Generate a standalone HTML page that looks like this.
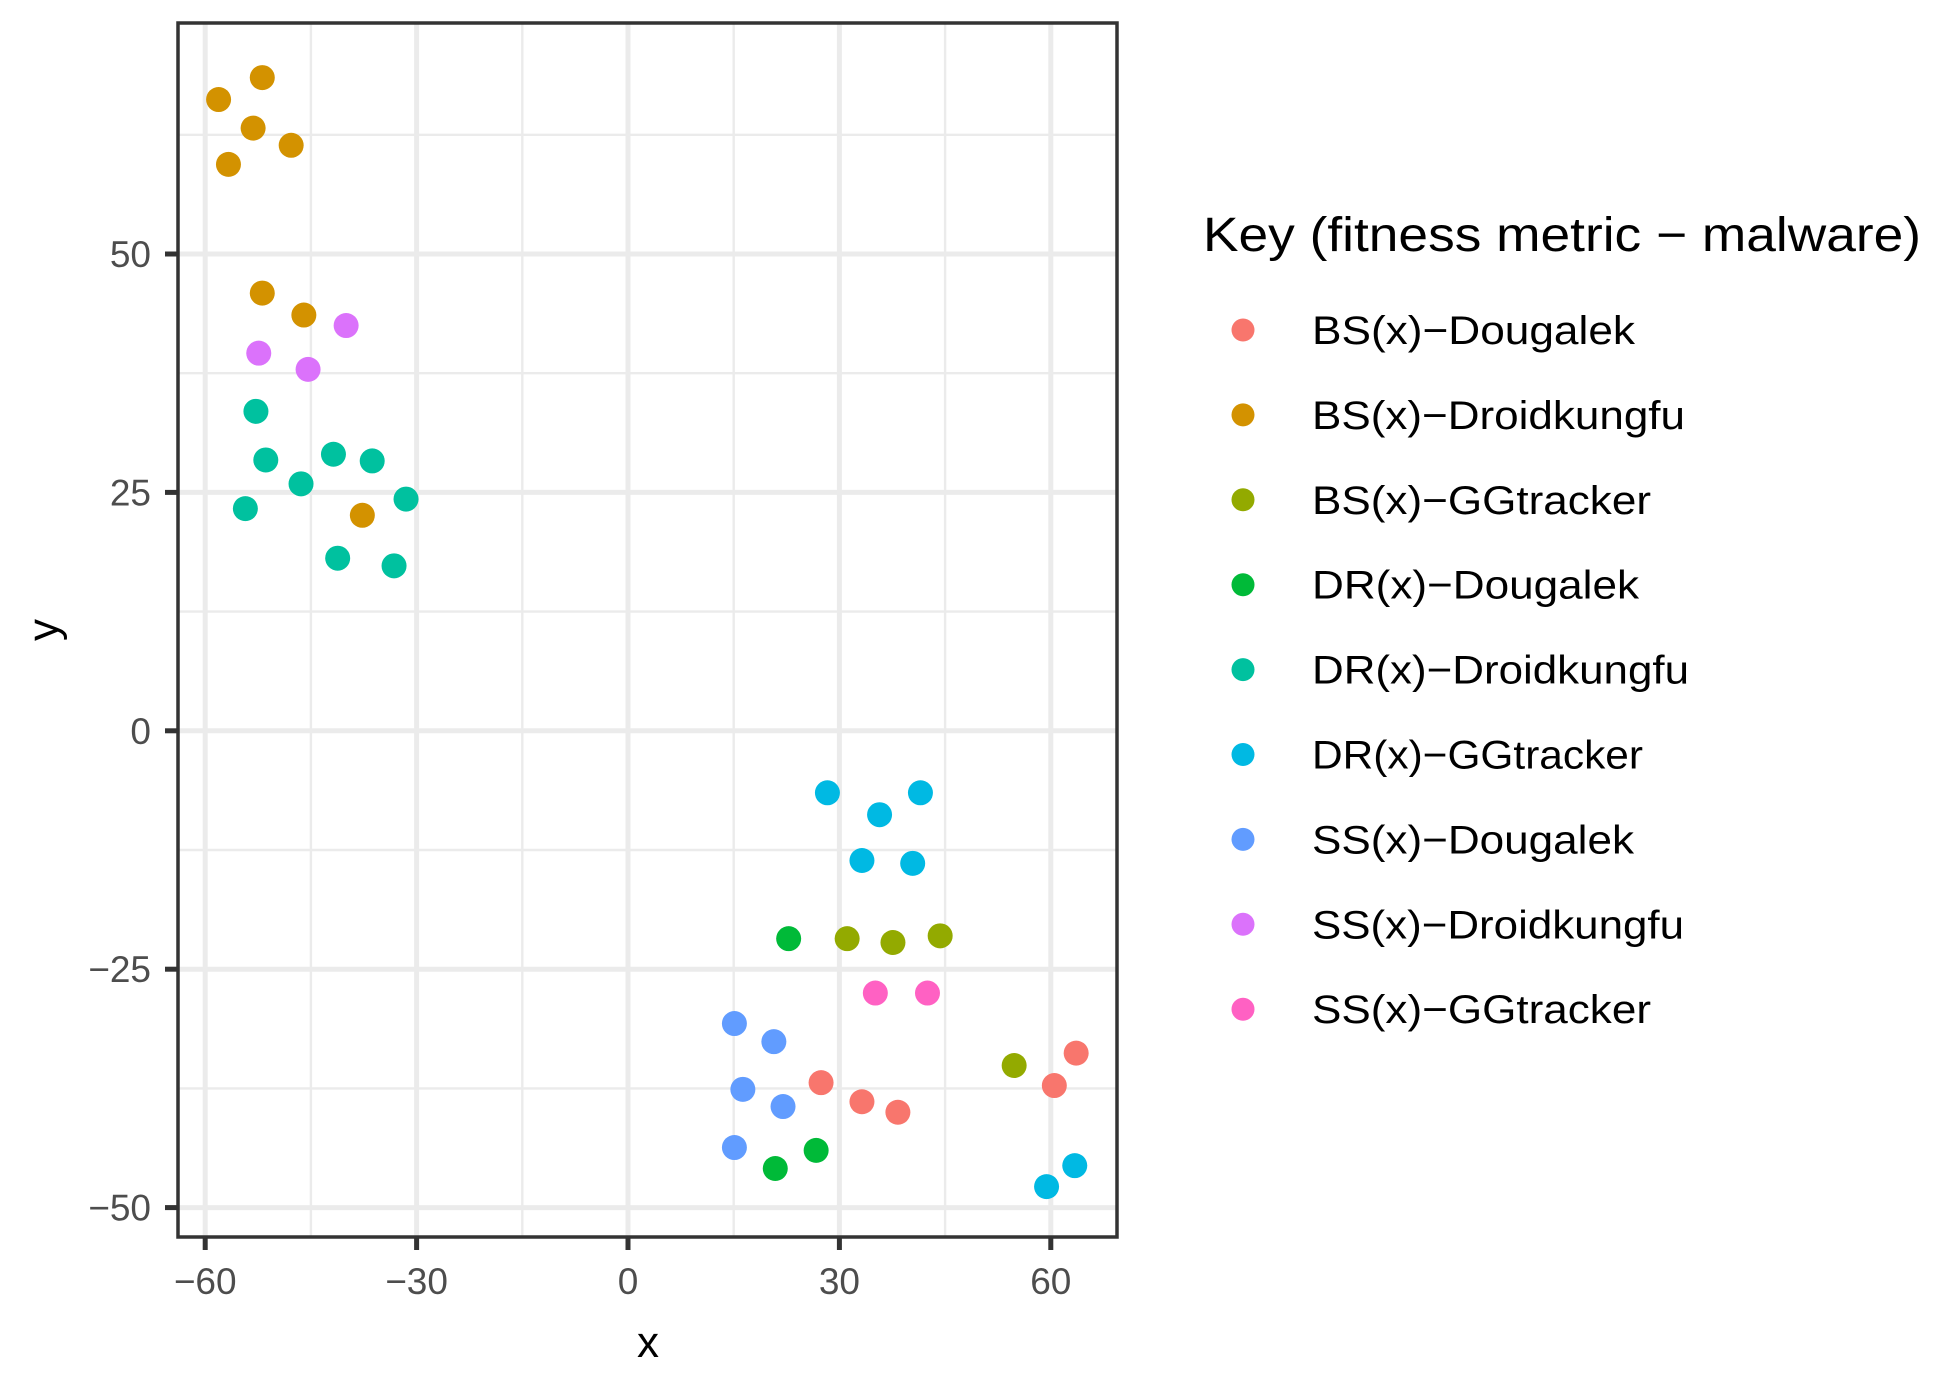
<!DOCTYPE html>
<html><head><meta charset="utf-8"><style>
html,body{margin:0;padding:0;background:#fff;}
svg{display:block;font-family:"Liberation Sans",sans-serif;}
</style></head><body>
<svg id="chart" width="1935" height="1393" viewBox="0 0 1935 1393" xmlns="http://www.w3.org/2000/svg"></svg>
<script>
const seriesNames = ["BS(x)\u2212Dougalek","BS(x)\u2212Droidkungfu","BS(x)\u2212GGtracker","DR(x)\u2212Dougalek","DR(x)\u2212Droidkungfu","DR(x)\u2212GGtracker","SS(x)\u2212Dougalek","SS(x)\u2212Droidkungfu","SS(x)\u2212GGtracker"];
const seriesColors = ["#F8766D","#D39200","#93AA00","#00BA38","#00C19F","#00B9E3","#619CFF","#DB72FB","#FF61C3"];
const bsDougalekX = [27.4,33.2,38.3,60.5,63.6];
const bsDougalekY = [-36.9,-38.9,-40.0,-37.2,-33.8];
const bsDroidX = [-58.1,-51.9,-53.2,-56.7,-47.8,-51.9,-46.0,-37.7];
const bsDroidY = [66.2,68.5,63.2,59.4,61.4,45.9,43.6,22.6];
const bsGGX = [31.1,37.6,44.3,54.8];
const bsGGY = [-21.8,-22.2,-21.5,-35.1];
const drDougalekX = [22.8,20.9,26.7];
const drDougalekY = [-21.8,-45.9,-44.0];
const drDroidX = [-52.8,-51.4,-41.8,-36.3,-46.4,-54.3,-31.5,-41.2,-33.2];
const drDroidY = [33.5,28.4,29.0,28.3,25.9,23.3,24.3,18.1,17.3];
const drGGX = [28.3,41.5,35.7,33.2,40.4,59.4,63.4];
const drGGY = [-6.5,-6.5,-8.8,-13.6,-13.9,-47.8,-45.6];
const ssDougalekX = [15.1,20.7,16.3,22.0,15.1];
const ssDougalekY = [-30.7,-32.6,-37.6,-39.4,-43.7];
const ssDroidX = [-40.0,-52.4,-45.4];
const ssDroidY = [42.5,39.6,37.9];
const ssGGX = [35.1,42.5];
const ssGGY = [-27.5,-27.5];
const xTicks = [-60,-30,0,30,60];
const yTicks = [-50,-25,0,25,50];
const xTickLabels = ["\u221260","\u221230","0","30","60"];
const yTickLabels = ["\u221250","\u221225","0","25","50"];

const X = [bsDougalekX,bsDroidX,bsGGX,drDougalekX,drDroidX,drGGX,ssDougalekX,ssDroidX,ssGGX];
const Y = [bsDougalekY,bsDroidY,bsGGY,drDougalekY,drDroidY,drGGY,ssDougalekY,ssDroidY,ssGGY];

const P = {l:178,r:1117,t:23,b:1237};
function sx(v){return 628 + v*(211.4/30);}
function sy(v){return 730.8 - v*(238.4/25);}
const NS="http://www.w3.org/2000/svg";
const svg=document.getElementById('chart');
function mk(tag,attrs,parent){const e=document.createElementNS(NS,tag);for(const k in attrs)e.setAttribute(k,attrs[k]);(parent||svg).appendChild(e);return e;}

const panel=mk('rect',{x:P.l,y:P.t,width:P.r-P.l,height:P.b-P.t,fill:'#fff'});


const grid=mk('g',{});


for(let i=0;i<xTicks.length+1;i++){const v=xTicks[0]-15+30*i;const px=sx(v);if(px>P.l&&px<P.r){const l=mk('line',{x1:px,x2:px,y1:P.t,y2:P.b,stroke:'#ebebeb','stroke-width':2.4},grid);}}
for(let i=0;i<yTicks.length+2;i++){const v=yTicks[0]-12.5+25*i;const py=sy(v);if(py>P.t&&py<P.b){const l=mk('line',{x1:P.l,x2:P.r,y1:py,y2:py,stroke:'#ebebeb','stroke-width':2.4},grid);}}
xTicks.forEach((v,i)=>{const px=sx(v);const l=mk('line',{x1:px,x2:px,y1:P.t,y2:P.b,stroke:'#ebebeb','stroke-width':5},grid);
 const t=mk('line',{x1:px,x2:px,y1:P.b,y2:P.b+13,stroke:'#333','stroke-width':5});
 const tx=mk('text',{x:px,y:1294,'text-anchor':'middle','font-size':37,fill:'#4d4d4d'});tx.textContent=xTickLabels[i];});
yTicks.forEach((v,i)=>{const py=sy(v);const l=mk('line',{x1:P.l,x2:P.r,y1:py,y2:py,stroke:'#ebebeb','stroke-width':5},grid);
 const t=mk('line',{x1:P.l-13,x2:P.l,y1:py,y2:py,stroke:'#333','stroke-width':5});
 const tx=mk('text',{x:151,y:py+13,'text-anchor':'end','font-size':37,fill:'#4d4d4d'});tx.textContent=yTickLabels[i];});

const pts=mk('g',{});


X.forEach((xs,s)=>{xs.forEach((xv,j)=>{const c=mk('circle',{cx:sx(xv),cy:sy(Y[s][j]),r:12.5,fill:seriesColors[s]},pts);});});

const border=mk('rect',{x:P.l,y:P.t,width:P.r-P.l,height:P.b-P.t,fill:'none',stroke:'#333','stroke-width':3.5});



const xt=mk('text',{x:648,y:1357,'text-anchor':'middle','font-size':44,fill:'#000'});xt.textContent='x';


const yt=mk('text',{x:0,y:0,'text-anchor':'middle','font-size':44,fill:'#000',transform:'translate(58,630) rotate(-90)'});yt.textContent='y';



const legendLens=[323,373,339,327,377,331,322,372,339];
const lg=mk('g',{});


const lt=mk('text',{x:1203,y:251,'font-size':48,fill:'#000',textLength:718,lengthAdjust:'spacingAndGlyphs'},lg);lt.textContent='Key (fitness metric \u2212 malware)';


seriesNames.forEach((n,i)=>{const y=330+i*84.9;
 const g=mk('g',{},lg);
 const c=mk('circle',{cx:1243,cy:y,r:11.5,fill:seriesColors[i]},g);
 const t=mk('text',{x:1312,y:y+14,'font-size':40,fill:'#000',textLength:legendLens[i],lengthAdjust:'spacingAndGlyphs'},g);t.textContent=n;});
</script>
</body></html>
